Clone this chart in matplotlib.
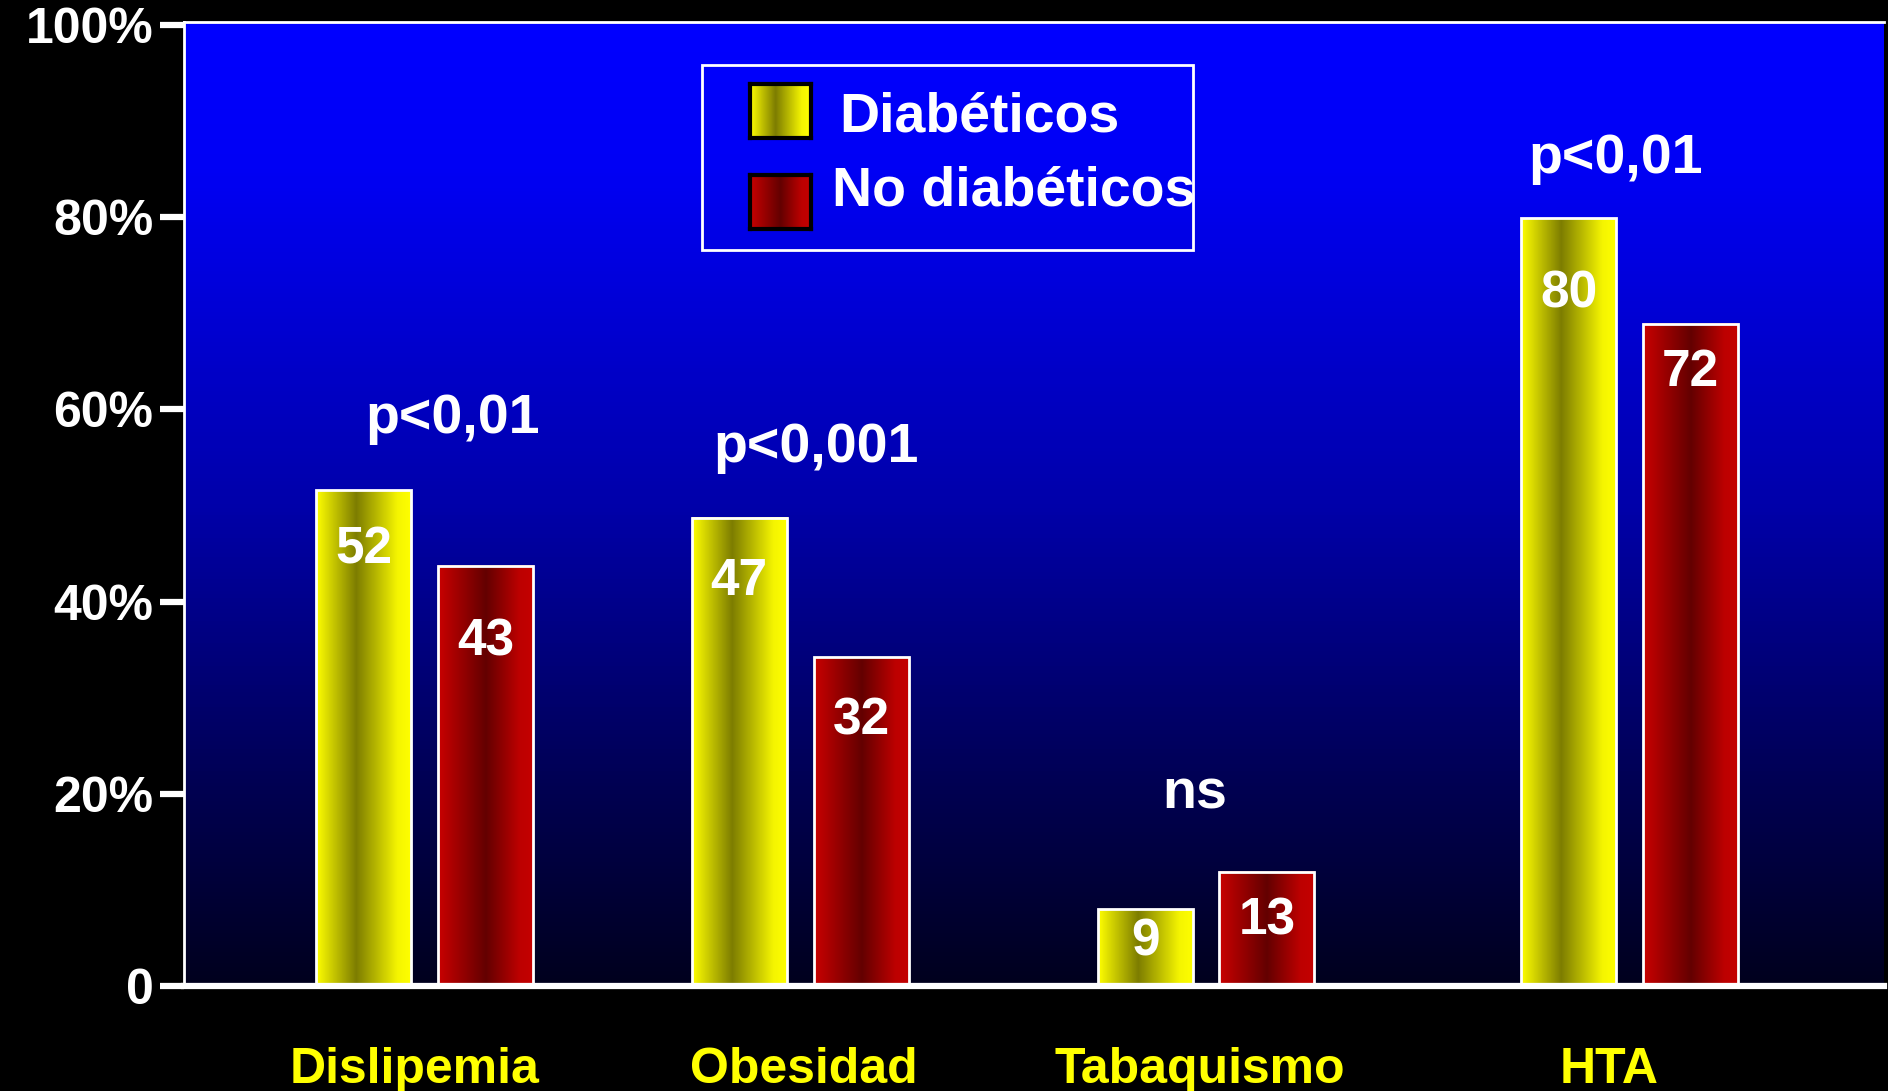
import numpy as np
import matplotlib
matplotlib.use('Agg')
import matplotlib.pyplot as plt
from matplotlib.colors import LinearSegmentedColormap
from matplotlib.patches import Rectangle

# Data
categories = ['Dislipemia', 'Obesidad', 'Tabaquismo', 'HTA']
diabeticos = [51.6, 48.7, 8.0, 79.9]        # bar heights as drawn
no_diabeticos = [43.7, 34.2, 11.9, 68.9]
diab_labels = ['52', '47', '9', '80']
nodiab_labels = ['43', '32', '13', '72']
p_values = ['p<0,01', 'p<0,001', 'ns', 'p<0,01']
yticks = [0, 20, 40, 60, 80, 100]
ytick_labels = ['0', '20%', '40%', '60%', '80%', '100%']

# Layout
group_x = [0.0, 0.937, 1.949, 3.006]
cat_label_x = [-0.024, 0.946, 1.934, 2.955]
bar_w = 0.237
offset = 0.152
p_xy = [(0.07, 59.0), (0.976, 56.0), (1.92, 19.9), (2.97, 86.0)]
diab_drop = [6.2, 6.6, 3.4, 7.9]
nodiab_drop = [7.9, 6.6, 5.1, 5.1]
XLIM = (-0.60, 3.64)
YLIM = (0, 100.3)

plt.rcParams['font.family'] = ['Liberation Sans', 'DejaVu Sans']

bg_cmap = LinearSegmentedColormap.from_list('bg', [
    (0.0, (0, 0, 30 / 255)), (0.2, (0, 0, 80 / 255)), (0.5, (0, 0, 170 / 255)),
    (0.85, (0, 0, 245 / 255)), (1.0, (0, 0, 1))])
yel_cmap = LinearSegmentedColormap.from_list('yel', [
    (0.0, (1, 1, 0)), (0.42, (0.49, 0.49, 0)), (0.85, (0.96, 0.96, 0)), (1.0, (1, 1, 0))])
red_cmap = LinearSegmentedColormap.from_list('red', [
    (0.0, (0.79, 0, 0)), (0.5, (0.39, 0, 0)), (0.85, (0.74, 0, 0)), (1.0, (0.77, 0, 0))])

W, H = 1888, 1091
fig = plt.figure(figsize=(W / 100, H / 100), dpi=100, facecolor='black')
ax = fig.add_axes([184 / W, 1 - 986 / H, (1884 - 184) / W, (986 - 22) / H])
ax.set_facecolor('black')

# background gradient
vgrad = np.linspace(0, 1, 256).reshape(-1, 1)
ax.imshow(vgrad, extent=(XLIM[0], XLIM[1], YLIM[0], YLIM[1]), origin='lower',
          cmap=bg_cmap, aspect='auto', zorder=0)

hgrad = np.linspace(0, 1, 256).reshape(1, -1)
for i, x in enumerate(group_x):
    for xc, h, cmap in [(x - offset, diabeticos[i], yel_cmap),
                        (x + offset, no_diabeticos[i], red_cmap)]:
        ax.imshow(hgrad, extent=(xc - bar_w / 2, xc + bar_w / 2, 0, h),
                  cmap=cmap, aspect='auto', zorder=2)
ax.bar([x - offset for x in group_x], diabeticos, bar_w, fill=False,
       edgecolor='white', linewidth=2, zorder=3)
ax.bar([x + offset for x in group_x], no_diabeticos, bar_w, fill=False,
       edgecolor='white', linewidth=2, zorder=3)

# value labels
for i, x in enumerate(group_x):
    ax.text(x - offset, diabeticos[i] - diab_drop[i], diab_labels[i], color='white',
            fontsize=37, fontweight='bold', ha='center', va='center', zorder=4)
    ax.text(x + offset, no_diabeticos[i] - nodiab_drop[i], nodiab_labels[i], color='white',
            fontsize=37, fontweight='bold', ha='center', va='center', zorder=4)

# p values
for (px, py), txt in zip(p_xy, p_values):
    ax.text(px, py, txt, color='white', fontsize=40, fontweight='bold',
            ha='center', va='center', zorder=4)

ax.set_xlim(*XLIM)
ax.set_ylim(*YLIM)
ax.set_yticks(yticks, ytick_labels)
ax.set_xticks(cat_label_x, categories)
ax.tick_params(axis='y', length=17, width=4.5, color='white', pad=5,
               labelsize=36, labelcolor='white')
ax.tick_params(axis='x', length=0, pad=44, labelsize=36, labelcolor='#FFFF00')
for lbl in ax.get_yticklabels() + ax.get_xticklabels():
    lbl.set_fontweight('bold')

for side in ['left', 'top']:
    ax.spines[side].set_color('white')
    ax.spines[side].set_linewidth(2)
ax.spines['bottom'].set_color('white')
ax.spines['bottom'].set_linewidth(4.5)
ax.spines['right'].set_visible(False)

# legend (drawn by hand to keep the gradient swatches)
fig.add_artist(Rectangle((702 / W, 1 - 250 / H), (1193 - 702) / W, (250 - 65) / H,
                         transform=fig.transFigure, fill=False, edgecolor='white',
                         linewidth=2, zorder=5))
for top, cmap, txt, tx, ty in [(84, yel_cmap, 'Diabéticos', 839, 118),
                               (175, red_cmap, 'No diabéticos', 832, 191)]:
    sw = fig.add_axes([750 / W, 1 - (top + 54) / H, 61 / W, 54 / H])
    sw.imshow(hgrad, cmap=cmap, aspect='auto')
    sw.set_xticks([])
    sw.set_yticks([])
    for s in sw.spines.values():
        s.set_color('black')
        s.set_linewidth(3)
    fig.text(tx / W, 1 - ty / H, txt, color='white', fontsize=40,
             fontweight='bold', ha='left', va='center')

fig.savefig('out.png', dpi=100, facecolor='black')
